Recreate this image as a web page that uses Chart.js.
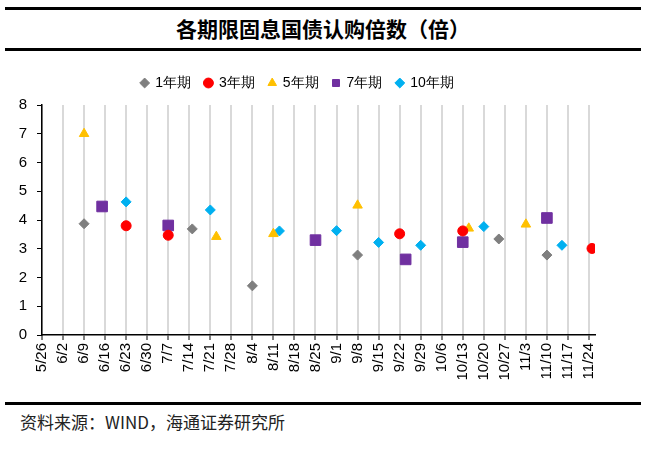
<!DOCTYPE html>
<html>
<head>
<meta charset="utf-8">
<script src="https://cdn.jsdelivr.net/npm/chart.js@4.4.0/dist/chart.umd.min.js"></script>
<style>
  body { margin: 0; background: #fff; }
  #wrap { position: relative; width: 646px; height: 450px; background: #fff; }
  .rule { position: absolute; left: 5px; width: 636px; height: 2.5px; background: #000; }
  #title { position: absolute; top: 13px; left: 0; width: 646px; text-align: center;
    font: bold 21px "Noto Sans CJK SC", sans-serif; color: #000; }
  #source { position: absolute; top: 409px; left: 20px;
    font: 17px "Noto Sans CJK SC", sans-serif; color: #222; }
  #box { position: absolute; left: 0; top: 55px; width: 646px; height: 345px; }
</style>
</head>
<body>
<div id="wrap">
  <div class="rule" style="top:7px"></div>
  <div id="title">各期限固息国债认购倍数（倍）</div>
  <div class="rule" style="top:48px"></div>
  <div id="box"><canvas id="chart"></canvas></div>
  <div class="rule" style="top:402px"></div>
  <div id="source">资料来源：WIND，海通证券研究所</div>
</div>
<script>
// weekly tick labels (x axis)
const weeks = ['5/26','6/2','6/9','6/16','6/23','6/30','7/7','7/14','7/21','7/28','8/4','8/11','8/18','8/25',
  '9/1','9/8','9/15','9/22','9/29','10/6','10/13','10/20','10/27','11/3','11/10','11/17','11/24'];
const yTicks = [0,1,2,3,4,5,6,7,8];

// auction dates and bid-to-cover ratios
const y1Dates = ['6/9','7/15','8/4','9/8','10/25','11/10'];
const y1Vals  = [3.87, 3.69, 1.71, 2.78, 3.34, 2.78];
const y3Dates = ['6/23','7/7','9/22','10/13','11/25'];
const y3Vals  = [3.80, 3.47, 3.52, 3.62, 3.01];
const y5Dates = ['6/9','7/23','8/11','9/8','10/15','11/3'];
const y5Vals  = [7.00, 3.42, 3.52, 4.51, 3.71, 3.85];
const y7Dates = ['6/15','7/7','8/25','9/24','10/13','11/10'];
const y7Vals  = [4.47, 3.81, 3.30, 2.63, 3.23, 4.07];
const y10Dates = ['6/23','7/21','8/13','9/1','9/15','9/29','10/20','11/15'];
const y10Vals  = [4.63, 4.35, 3.62, 3.63, 3.22, 3.12, 3.77, 3.12];

// days since 5/26
function dayNo(s) {
  const [m, d] = s.split('/').map(Number);
  return Math.round((Date.UTC(2023, m - 1, d) - Date.UTC(2023, 4, 26)) / 86400000);
}
function pts(dates, vals) {
  return dates.map((s, i) => ({ x: dayNo(s), y: vals[i] }));
}

// a bit more room under the legend
const legendGap = {
  id: 'legendGap',
  beforeInit(chart) {
    const fit = chart.legend.fit;
    chart.legend.fit = function () { fit.call(this); this.height += 5; };
  }
};

const ctx = document.getElementById('chart');
let chart = new Chart(ctx, {
  type: 'scatter',
  plugins: [legendGap],
  data: {
    datasets: [
      { label: '1年期', data: pts(y1Dates, y1Vals), pointStyle: 'rectRot', radius: 5,
        backgroundColor: '#7F7F7F', borderColor: '#7F7F7F' },
      { label: '3年期', data: pts(y3Dates, y3Vals), pointStyle: 'circle', radius: 5,
        backgroundColor: '#FF0000', borderColor: '#FF0000' },
      { label: '5年期', data: pts(y5Dates, y5Vals), pointStyle: 'triangle', radius: 5.5,
        backgroundColor: '#FFC000', borderColor: '#FFC000' },
      { label: '7年期', data: pts(y7Dates, y7Vals), pointStyle: 'rect', radius: 7.5,
        backgroundColor: '#7030A0', borderColor: '#7030A0' },
      { label: '10年期', data: pts(y10Dates, y10Vals), pointStyle: 'rectRot', radius: 5,
        backgroundColor: '#00B0F0', borderColor: '#00B0F0' }
    ]
  },
  options: {
    responsive: true,
    maintainAspectRatio: false,
    animation: false,
    layout: { padding: { top: 7, right: 51, left: 0, bottom: 0 } },
    plugins: {
      tooltip: { enabled: false },
      legend: {
        position: 'top',
        labels: {
          usePointStyle: true, boxWidth: 7, boxHeight: 7, padding: 14,
          color: '#000', font: { family: 'Liberation Sans, Arial', size: 14 }
        }
      }
    },
    scales: {
      x: {
        type: 'linear', min: 0, max: 184,
        afterFit: s => { s.height = 65; },
        ticks: {
          stepSize: 7, includeBounds: false, autoSkip: false,
          minRotation: 90, maxRotation: 90, padding: 3,
          color: '#000', font: { family: 'Liberation Sans, Arial', size: 15 },
          callback: v => weeks[Math.round(v / 7)]
        },
        grid: { color: '#D9D9D9', lineWidth: 2, tickColor: '#000', tickLength: 5, tickWidth: 1 },
        border: { color: '#000', width: 1.5 }
      },
      y: {
        min: 0, max: 8,
        afterFit: s => { s.width = 42; },
        ticks: {
          stepSize: 1, padding: 10,
          color: '#000', font: { family: 'Liberation Sans, Arial', size: 15 },
          callback: v => yTicks.includes(v) ? String(v) : ''
        },
        grid: { drawOnChartArea: false, tickColor: '#000', tickLength: 5, tickWidth: 1 },
        border: { color: '#000', width: 1.5 }
      }
    }
  }
});
</script>
</body>
</html>
